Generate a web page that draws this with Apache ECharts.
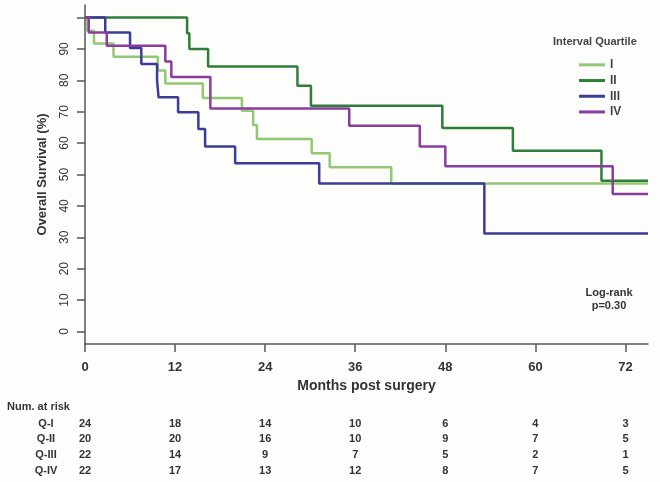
<!DOCTYPE html>
<html><head><meta charset="utf-8">
<script src="https://cdn.jsdelivr.net/npm/echarts@6/dist/echarts.min.js"></script>
<style>html,body{margin:0;padding:0;background:#fdfdfb}#c{width:660px;height:482px}</style>
</head><body><div id="c"></div>
<script>
// Kaplan-Meier step points [month, survival %]
const qI   = [[0,100],[0.3,95.8],[1.2,91.7],[3.8,87.5],[9.7,83.1],[10.7,79.0],[15.7,74.4],[20.9,70.3],[22.4,65.8],[22.9,61.3],[30.2,56.8],[32.6,52.3],[40.8,47.1],[75,47.1]];
const qII  = [[0,100],[13.6,95.0],[13.9,90.0],[16.4,84.4],[28.3,78.3],[30.1,71.9],[47.6,64.8],[57.0,57.6],[68.8,48.0],[75,48.0]];
const qIII = [[0,100],[2.7,95.2],[6.0,90.3],[7.5,85.2],[9.6,80.1],[9.8,74.6],[12.4,69.8],[15.1,64.5],[16.0,58.9],[20.0,53.6],[31.2,47.1],[53.2,31.2],[75,31.2]];
const qIV  = [[0,100],[0.5,95.2],[2.9,91.0],[10.7,86.0],[11.5,81.1],[16.7,71.0],[35.2,65.5],[44.6,58.9],[48.0,52.6],[70.3,43.8],[75,43.8]];
const seriesNames = ['I','II','III','IV'];
const xTicks = [0,12,24,36,48,60,72];
const yTicks = [0,10,20,30,40,50,60,70,80,90,100];
const yLabels = [0,10,20,30,40,50,60,70,80,90];
const riskMonths = [0,12,24,36,48,60,72];
const riskRowLabels = ['Q-I','Q-II','Q-III','Q-IV'];
const riskI   = [24,18,14,10,6,4,3];
const riskII  = [20,20,16,10,9,7,5];
const riskIII = [22,14,9,7,5,2,1];
const riskIV  = [22,17,13,12,8,7,5];

const colors = ['#93c872','#2f7d3a','#3a3d98','#8b3d9e'];
const FF = '"Liberation Sans", Arial, sans-serif';
const chart = echarts.init(document.getElementById('c'));
const allData = [qI,qII,qIII,qIV];
chart.setOption({
  animation:false,
  backgroundColor:'#fdfdfb',
  textStyle:{fontFamily:FF},
  grid:{left:85,right:12,top:5,bottom:138},
  title:{text:'Interval Quartile',left:548,top:31,textStyle:{fontSize:11,fontWeight:'bold',color:'#444',fontFamily:FF}},
  legend:{orient:'vertical',left:574,top:53,itemWidth:26,itemHeight:3,itemGap:2,icon:'rect',
    textStyle:{fontSize:12,fontWeight:'bold',color:'#444',lineHeight:13.7,fontFamily:FF,padding:[0,0,0,0]},
    data:seriesNames},
  xAxis:{type:'value',min:0,max:75,
    name:'Months post surgery',nameLocation:'middle',nameGap:33,
    nameTextStyle:{fontSize:14,fontWeight:'bold',color:'#333',fontFamily:FF},
    axisLine:{show:true,onZero:false,lineStyle:{color:'#555',width:1.5}},
    axisTick:{show:true,length:8,lineStyle:{color:'#555',width:1.5},customValues:xTicks},
    axisLabel:{fontSize:13,fontWeight:'bold',color:'#333',margin:17,customValues:xTicks},
    splitLine:{show:false}},
  yAxis:{type:'value',min:-4,max:104,
    name:'Overall Survival (%)',nameLocation:'middle',nameGap:36,
    nameTextStyle:{fontSize:13,fontWeight:'bold',color:'#333',fontFamily:FF},
    axisLine:{show:true,onZero:false,lineStyle:{color:'#555',width:1.5}},
    axisTick:{show:true,length:8,lineStyle:{color:'#555',width:1.5},customValues:yTicks},
    axisLabel:{fontSize:12,color:'#333',rotate:90,margin:14,customValues:yLabels},
    splitLine:{show:false}},
  series:allData.map((d,i)=>({
    name:seriesNames[i],type:'line',step:'end',data:d,showSymbol:false,symbol:'none',
    lineStyle:{color:colors[i],width:2.5},itemStyle:{color:colors[i]},z:2+i
  }))
});

const g = [];
const txt = (text,x,y,opts={})=>g.push({type:'text',x:x,y:y,silent:true,style:Object.assign({
  text:text,fill:'#333',font:'bold 11px '+FF,textAlign:'center',textVerticalAlign:'middle',align:'center',verticalAlign:'middle'},opts)});
txt('Log-rank',609,293);
txt('p=0.30',609,306);
txt('Num. at risk',7,407,{textAlign:'left',align:'left'});
const rows=[riskI,riskII,riskIII,riskIV];
const rowY=[424,439,455,471];
rows.forEach((r,ri)=>{
  txt(riskRowLabels[ri],46,rowY[ri]);
  r.forEach((v,ci)=>{
    const px = chart.convertToPixel({xAxisIndex:0}, riskMonths[ci]);
    txt(String(v),px,rowY[ri]);
  });
});
chart.setOption({graphic:g});
</script></body></html>
